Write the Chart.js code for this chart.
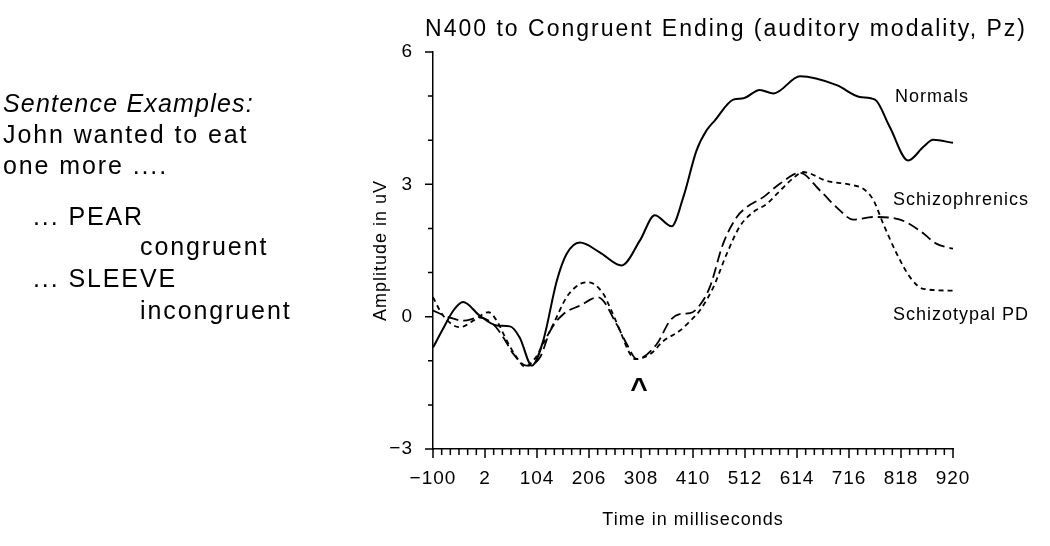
<!DOCTYPE html>
<html>
<head>
<meta charset="utf-8">
<script src="https://cdn.jsdelivr.net/npm/chart.js@4/dist/chart.umd.min.js"></script>
<style>
  html, body { margin: 0; padding: 0; background: #fff; }
  #wrap { position: relative; width: 1050px; height: 546px; }
</style>
</head>
<body>
<div id="wrap"><canvas id="erpChart" width="1050" height="546"></canvas></div>
<script>
// Zaman (ms) ve genlik (uV) değerleri
const normalsMs = [-100, -80, -60, -41, -8, 25, 51, 70, 94, 116, 143, 162, 188, 227, 270, 306, 335, 368, 391, 417, 437, 453, 489, 509, 541, 568, 620, 692, 737, 767, 796, 832, 862, 881, 920];
const normalsUv = [-0.70, -0.27, 0.14, 0.33, 0.02, -0.20, -0.22, -0.47, -1.11, -0.55, 0.82, 1.42, 1.68, 1.46, 1.16, 1.73, 2.30, 2.05, 2.71, 3.77, 4.23, 4.45, 4.92, 4.95, 5.14, 5.06, 5.45, 5.25, 4.98, 4.92, 4.30, 3.54, 3.85, 4.01, 3.94];

const schizoMs = [-100, -67, -40, -8, 18, 38, 58, 84, 110, 130, 156, 188, 224, 260, 280, 300, 339, 365, 384, 404, 420, 443, 469, 496, 515, 548, 581, 620, 659, 698, 724, 764, 816, 855, 888, 920];
const schizoUv = [0.14, -0.02, -0.09, -0.02, -0.17, -0.47, -0.85, -1.11, -0.92, -0.32, 0.06, 0.25, 0.44, -0.17, -0.62, -0.96, -0.62, -0.09, 0.06, 0.08, 0.21, 0.67, 1.65, 2.26, 2.48, 2.71, 3.02, 3.26, 2.86, 2.41, 2.20, 2.26, 2.20, 1.95, 1.65, 1.54];

const typalMs = [-100, -80, -47, -21, 9, 25, 45, 64, 80, 100, 116, 136, 162, 188, 205, 234, 247, 267, 283, 296, 326, 352, 384, 400, 424, 450, 476, 502, 528, 555, 581, 613, 626, 672, 724, 744, 764, 783, 810, 836, 862, 920];
const typalUv = [0.44, 0.02, -0.24, -0.09, 0.10, -0.09, -0.55, -0.92, -1.13, -0.95, -0.62, -0.17, 0.44, 0.74, 0.78, 0.52, 0.21, -0.32, -0.77, -0.96, -0.85, -0.55, -0.32, -0.15, 0.15, 0.67, 1.42, 2.05, 2.37, 2.56, 2.86, 3.20, 3.28, 3.08, 2.98, 2.90, 2.64, 2.11, 1.42, 0.89, 0.63, 0.59];

// Eksen ayarları
const xMin = -100, xMax = 920, xStep = 17, xLabelEvery = 102;
const yMin = -3, yMax = 6, yStep = 1, yLabelEvery = 3;

// Metinler
const chartTitle = 'N400 to Congruent Ending (auditory modality, Pz)';
const xTitle = 'Time in milliseconds';
const yTitle = 'Amplitude in uV';
const seriesNames = ['Normals', 'Schizophrenics', 'Schizotypal PD'];
const sideLines = ['Sentence Examples:', 'John wanted to eat', 'one more ....', '... PEAR', 'congruent', '... SLEEVE', 'incongruent'];

const FONT = '"Liberation Sans", Arial, Helvetica, sans-serif';

function toPoints(xs, ys) {
    return xs.map((x, i) => ({ x: x, y: ys[i] }));
}

function minus(v) {
    return String(v).replace('-', '\u2212');
}

// Eksen çentikleri (uzun/kısa) ve ek yazılar
const decorPlugin = {
    id: 'decor',
    beforeDraw(chart) {
        // eksen yazıları biraz seyrek aralıklı
        chart.ctx.letterSpacing = '1px';
    },
    afterDraw(chart) {
        const ctx = chart.ctx;
        const xs = chart.scales.x;
        const ys = chart.scales.y;
        ctx.save();
        ctx.strokeStyle = '#000';
        ctx.lineWidth = 1.5;
        ctx.beginPath();
        xs.ticks.forEach(t => {
            const px = xs.getPixelForValue(t.value);
            const len = t.label ? 9 : 6;
            ctx.moveTo(px, xs.top);
            ctx.lineTo(px, xs.top + len);
        });
        ys.ticks.forEach(t => {
            const py = ys.getPixelForValue(t.value);
            const len = t.label ? 8 : 5;
            ctx.moveTo(ys.right, py);
            ctx.lineTo(ys.right - len, py);
        });
        ctx.stroke();

        ctx.fillStyle = '#000';
        ctx.textBaseline = 'alphabetic';

        // Başlık
        ctx.font = '23px ' + FONT;
        ctx.letterSpacing = '2px';
        ctx.textAlign = 'center';
        ctx.fillText(chartTitle, 726, 36);

        // Seri etiketleri
        ctx.font = '18px ' + FONT;
        ctx.letterSpacing = '1px';
        ctx.textAlign = 'left';
        ctx.fillText(seriesNames[0], 895, 102);
        ctx.fillText(seriesNames[1], 893, 205);
        ctx.fillText(seriesNames[2], 893, 320);

        // N400 işareti
        ctx.font = 'bold 30px ' + FONT;
        ctx.letterSpacing = '0px';
        ctx.textAlign = 'center';
        ctx.fillText('^', xs.getPixelForValue(304), 398);

        // Soldaki cümle örnekleri
        ctx.textAlign = 'left';
        const lineX = [3, 3, 3, 33, 140, 33, 140];
        const lineY = [112, 143, 174, 225, 255, 287, 319];
        sideLines.forEach((s, i) => {
            ctx.font = (i === 0 ? 'italic ' : '') + '25px ' + FONT;
            ctx.letterSpacing = i === 0 ? '1.2px' : '1.9px';
            ctx.fillText(s, lineX[i], lineY[i]);
        });
        ctx.restore();
    }
};

const ctx = document.getElementById('erpChart').getContext('2d');
const erpChart = new Chart(ctx, {
    type: 'line',
    data: {
        datasets: [
            {
                label: seriesNames[0],
                data: toPoints(normalsMs, normalsUv),
                borderColor: '#000',
                borderWidth: 2,
                cubicInterpolationMode: 'monotone'
            },
            {
                label: seriesNames[1],
                data: toPoints(schizoMs, schizoUv),
                borderColor: '#000',
                borderWidth: 1.8,
                borderDash: [11, 5],
                cubicInterpolationMode: 'monotone'
            },
            {
                label: seriesNames[2],
                data: toPoints(typalMs, typalUv),
                borderColor: '#000',
                borderWidth: 1.8,
                borderDash: [5, 4],
                cubicInterpolationMode: 'monotone'
            }
        ]
    },
    options: {
        responsive: false,
        animation: false,
        events: [],
        elements: { point: { radius: 0 } },
        layout: { padding: { left: 353, right: 97, top: 52, bottom: 7 } },
        plugins: {
            legend: { display: false },
            tooltip: { enabled: false },
            title: { display: false }
        },
        scales: {
            x: {
                type: 'linear',
                min: xMin,
                max: xMax,
                afterFit: s => { s.height = 90; },
                grid: { display: false, drawTicks: false },
                border: { display: true, color: '#000', width: 1.5 },
                ticks: {
                    stepSize: xStep,
                    autoSkip: false,
                    maxRotation: 0,
                    padding: 18,
                    color: '#000',
                    font: { family: FONT, size: 19 },
                    callback: v => ((v - xMin) % xLabelEvery === 0 ? minus(v) : '')
                },
                title: {
                    display: true,
                    text: xTitle,
                    color: '#000',
                    font: { family: FONT, size: 18 },
                    padding: { top: 4, bottom: 8 }
                }
            },
            y: {
                type: 'linear',
                min: yMin,
                max: yMax,
                afterFit: s => { s.width = 80; },
                grid: { display: false, drawTicks: false },
                border: { display: true, color: '#000', width: 1.5 },
                ticks: {
                    stepSize: yStep,
                    autoSkip: false,
                    padding: 20,
                    color: '#000',
                    font: { family: FONT, size: 19 },
                    callback: v => (v % yLabelEvery === 0 ? minus(v) : '')
                },
                title: {
                    display: true,
                    text: yTitle,
                    color: '#000',
                    font: { family: FONT, size: 18 },
                    padding: { top: 17, bottom: 4 }
                }
            }
        }
    },
    plugins: [decorPlugin]
});
</script>
</body>
</html>
